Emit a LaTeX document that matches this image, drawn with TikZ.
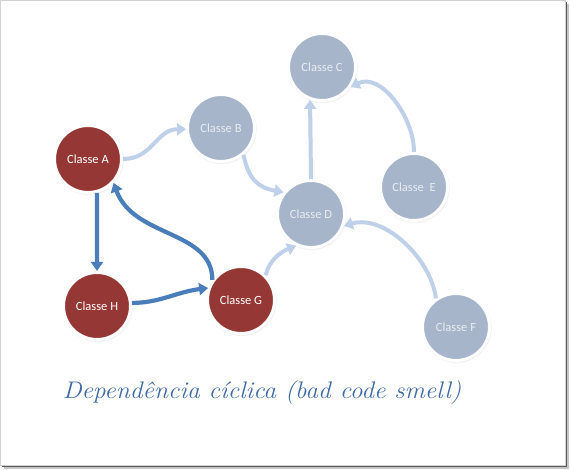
\documentclass[tikz,border=0pt]{standalone}
\usepackage{fontspec}
\newfontfamily\nodefont{Carlito}
\usetikzlibrary{arrows.meta,shadows}
\definecolor{redfill}{HTML}{953735}
\definecolor{grayfill}{HTML}{A6B5C9}
\definecolor{graytext}{HTML}{E8ECF2}
\definecolor{darkarrow}{HTML}{4A7EBB}
\definecolor{lightarrow}{HTML}{BFD1E8}
\definecolor{captioncol}{HTML}{3F6BA6}
\tikzset{
  classnode/.style={circle, minimum size=67pt, inner sep=0pt, draw=white, line width=3pt,
    font=\nodefont\fontsize{12.5}{14}\selectfont,
    circular drop shadow={shadow scale=1.06, opacity=0.35, shadow xshift=0.4pt, shadow yshift=-0.8pt}},
  rednode/.style={classnode, fill=redfill, text=white},
  graynode/.style={classnode, fill=grayfill, text=graytext},
  lightdep/.style={draw=lightarrow, line width=4pt, -{Triangle[width=12pt,length=9pt]}},
  darkdep/.style={draw=darkarrow, line width=4.2pt, -{Triangle[width=12pt,length=9pt]}},
  caption/.style={text=captioncol, font=\itshape\fontsize{24}{28}\selectfont}
}
\begin{document}
\begin{tikzpicture}[x=1pt,y=1pt]
\useasboundingbox (0,0) rectangle (570,470);
% frame with shadow
\fill[gray!45] (4,1) rectangle (569,466);
\fill[black!65] (2,3) rectangle (567,468);
\fill[white, draw=gray!35, line width=0.8pt] (0.5,5) rectangle (565,469.5);
% nodes
\node[rednode]  (A) at (88,311) {Classe A};
\node[graynode] (B) at (221,342) {Classe B};
\node[graynode] (C) at (322,403) {Classe C};
\node[graynode] (D) at (311,256) {Classe D};
\node[graynode] (E) at (414,283) {Classe~ E};
\node[graynode] (F) at (456,143) {Classe F};
\node[rednode]  (G) at (241,170) {Classe G};
\node[rednode]  (H) at (97,164) {Classe H};
% light dependencies
\draw[lightdep] (A.0) .. controls +(30,0) and +(-30,0) .. (B.182);
\draw[lightdep] (B.-50) .. controls +(5,-25) and +(-25,5) .. (D.142);
\draw[lightdep] (G.45) .. controls +(3,15) and +(-15,-6) .. (D.245);
\draw[lightdep] (D.north) -- (C.250);
\draw[lightdep] (E.north) .. controls +(0,35) and +(30,15) .. (C.-35);
\draw[lightdep] (F.125) .. controls +(-5,40) and +(40,12) .. (D.-20);
% dark (cyclic) dependencies
\draw[darkdep] (A.-75) -- (H.north);
\draw[darkdep] (H.5) .. controls +(28,0) and +(-32,-4) .. (G.160);
\draw[darkdep] (G.145) .. controls +(0,50) and +(20,-55) .. (A.-43);
% caption
\node[caption] (cap) at (262,77) {\scalebox{1.06}[1]{Dependência cíclica (bad code smell)}};
\end{tikzpicture}
\end{document}
